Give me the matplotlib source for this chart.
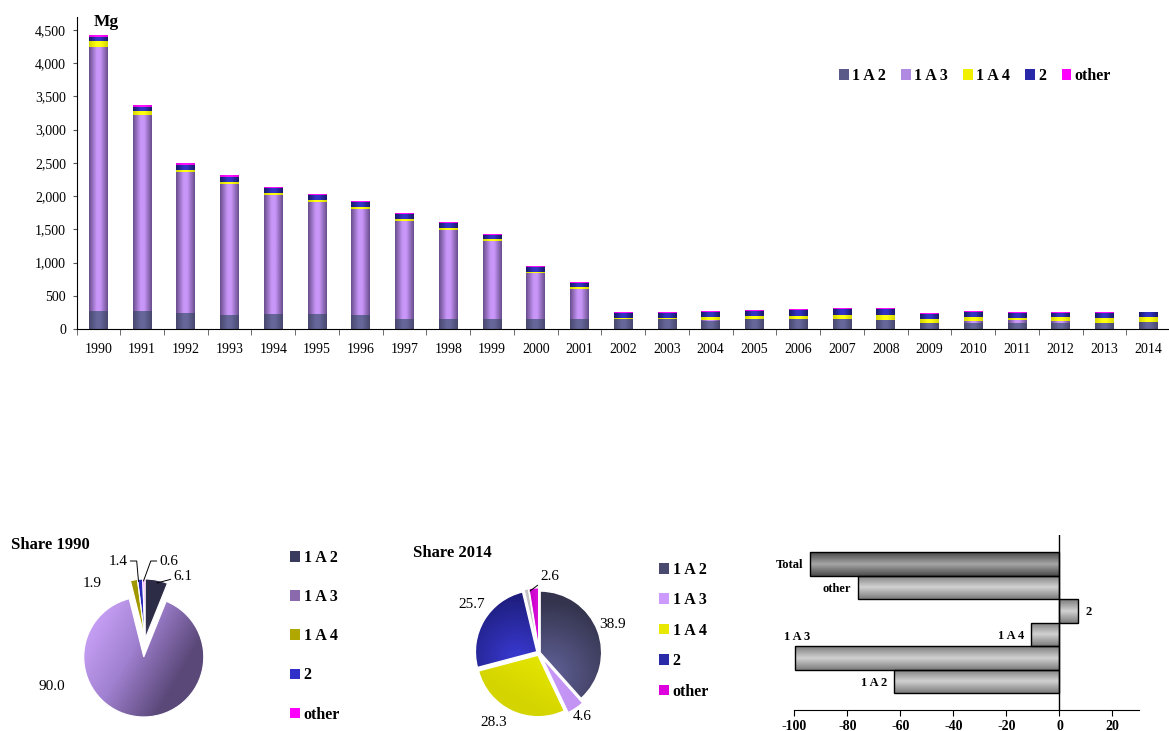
import numpy as np
import matplotlib
matplotlib.use('Agg')
import matplotlib.pyplot as plt
from matplotlib.colors import LinearSegmentedColormap
from matplotlib.patches import Rectangle
from matplotlib.ticker import FuncFormatter, FixedLocator

# ---------------- data ----------------
years = list(range(1990, 2015))
series_names = ['1 A 2', '1 A 3', '1 A 4', '2', 'other']
a12 = [270, 270, 240, 210, 225, 225, 210, 150, 150, 150, 150, 150, 150, 150, 120, 145, 145, 145, 130, 90, 95, 95, 95, 95, 100]
a13 = [3980, 2950, 2123, 1972, 1792, 1686, 1596, 1475, 1340, 1174, 693, 452, 3, 3, 15, 5, 5, 5, 5, 0, 20, 35, 25, 0, 12]
a14 = [84, 60, 30, 30, 30, 30, 30, 30, 30, 30, 15, 30, 15, 15, 45, 46, 46, 61, 76, 60, 65, 35, 60, 70, 72]
a2 = [62, 60, 75, 76, 75, 76, 75, 76, 75, 61, 75, 60, 76, 76, 76, 75, 90, 90, 90, 76, 76, 76, 61, 76, 66]
a_other = [27, 25, 30, 30, 15, 15, 15, 15, 15, 15, 15, 15, 15, 15, 15, 15, 15, 15, 15, 15, 15, 15, 15, 15, 7]
y_ticks = [0, 500, 1000, 1500, 2000, 2500, 3000, 3500, 4000, 4500]

share1990 = [6.1, 90.0, 1.9, 1.4, 0.6]
share2014_names = ['1 A 2', '1 A 3', '1 A 4', '2', '', 'other']
share2014 = [38.9, 4.6, 28.3, 25.7, 1.2, 2.6]

change_labels = ['1 A 2', '1 A 3', '1 A 4', '2', 'other', 'Total']
change = [-62.4, -99.7, -10.8, 7.1, -75.9, -94.1]
change_ticks = [-100, -80, -60, -40, -20, 0, 20]

# ---------------- setup ----------------
SERIF = 'Liberation Serif'
plt.rcParams['font.family'] = [SERIF, 'DejaVu Serif']
W, H = 1169, 731
fig = plt.figure(figsize=(W / 100, H / 100), dpi=100)


def fax(l, t, r, b):
    return fig.add_axes([l / W, 1 - b / H, (r - l) / W, (b - t) / H])


def cmap_of(stops):
    return LinearSegmentedColormap.from_list('g', stops)


def grad_rect(ax, patch, stops, horizontal=True, n=48):
    x0, y0 = patch.get_x(), patch.get_y()
    w, h = patch.get_width(), patch.get_height()
    if w == 0 or h == 0:
        return
    t = np.linspace(0, 1, n)
    Z = t.reshape(1, -1) if horizontal else t.reshape(-1, 1)
    ext = [min(x0, x0 + w), max(x0, x0 + w), min(y0, y0 + h), max(y0, y0 + h)]
    im = ax.imshow(Z, extent=ext, origin='lower', cmap=cmap_of(stops), vmin=0, vmax=1,
                   aspect='auto', interpolation='bilinear', zorder=patch.get_zorder() + 0.01)
    im.set_clip_path(patch)
    return im


def grad_wedge(ax, wedge, stops, func, lim, n=200):
    xs = np.linspace(-lim, lim, n)
    X, Y = np.meshgrid(xs, xs)
    Z = np.clip(func(X, Y), 0, 1)
    im = ax.imshow(Z, extent=[-lim, lim, -lim, lim], origin='lower', cmap=cmap_of(stops),
                   vmin=0, vmax=1, aspect='auto', interpolation='bilinear',
                   zorder=wedge.get_zorder() + 0.01)
    im.set_clip_path(wedge)
    wedge.set_zorder(wedge.get_zorder() + 0.02)
    wedge.set_facecolor('none')


def lin(ax_deg, scale=1.0, off=0.0):
    a = np.deg2rad(ax_deg)
    return lambda X, Y: 0.5 + (X * np.cos(a) + Y * np.sin(a)) * 0.5 * scale + off


def rad(cx, cy, r):
    return lambda X, Y: np.sqrt((X - cx) ** 2 + (Y - cy) ** 2) / r


# ---------------- main stacked bar chart ----------------
ax = fax(76.5, 16.7, 1170, 329)
xpos = np.arange(len(years))
bar_styles = [
    ('#48486e', '#66669a'),
    ('#6a4e8e', '#c896f8'),
    ('#d6d600', '#ffff10'),
    ('#1a1a6a', '#3232c4'),
    ('#e000e0', '#ff10ff'),
]
legend_cols = ['#5a5a88', '#b08ae0', '#f0f000', '#2828a8', '#ff00ff']
bottom = np.zeros(len(years))
for vals, (edge, mid) in zip([a12, a13, a14, a2, a_other], bar_styles):
    vals = np.array(vals, dtype=float)
    bars = ax.bar(xpos, vals, width=0.43, bottom=bottom, color=mid, linewidth=0)
    for b in bars:
        grad_rect(ax, b, [(0, edge), (0.4, mid), (0.6, mid), (1, edge)], horizontal=True)
    bottom += vals

ax.set_xlim(-0.5, len(years) - 0.5)
ax.set_ylim(0, 4700)
ax.spines['top'].set_visible(False)
ax.spines['right'].set_visible(False)
ax.set_yticks(y_ticks)
ax.yaxis.set_major_formatter(FuncFormatter(lambda v, p: f'{int(v):,}'))
ax.tick_params(axis='y', direction='out', length=3, pad=4.5, labelsize=10, color='#555555')
ax.set_xticks(xpos)
ax.set_xticklabels([str(y) for y in years])
ax.xaxis.set_minor_locator(FixedLocator(np.arange(-0.5, len(years), 1.0)))
ax.tick_params(axis='x', which='major', length=0, pad=10, labelsize=10)
ax.tick_params(axis='x', which='minor', length=4, direction='out', color='#555555')
fig.text(94 / W, 1 - 21.5 / H, 'Mg', fontsize=12.5, fontweight='bold', va='center', ha='left')

handles = [Rectangle((0, 0), 1, 1, fc=c, ec='none') for c in legend_cols]
fig.legend(handles, series_names, loc='center left', bbox_to_anchor=(839 / W, 1 - 76 / H),
           ncol=5, frameon=False, borderpad=0, borderaxespad=0, handlelength=0.6,
           handleheight=0.75, handletextpad=0.2, columnspacing=0.97,
           prop={'family': SERIF, 'weight': 'bold', 'size': 11.5})

# ---------------- pie 1990 ----------------
cx1, cy1, r1 = 145, 639, 60
ax1 = fax(cx1 - 100, cy1 - 100, cx1 + 100, cy1 + 100)
lim1 = 100 / r1
w1, _ = ax1.pie(share1990, startangle=90, counterclock=False, explode=[0, 0.3, 0, 0, 0],
                colors=['#3a3a5e', '#8a6aac', '#b0a800', '#3030c8', '#ff00ff'],
                wedgeprops=dict(edgecolor='white', linewidth=0.8))
grads1 = [
    (['#5e5e8c', '#2c2c46'], lin(60, 3.0, 0.0)),
    (['#cca4fa', '#a080d0', '#5a4878'], lin(-30, 1.1, 0.05)),
    (['#a09600', '#e8e800'], lin(0, 8, 0)),
    (['#2424b0', '#4040e0'], lin(0, 8, 0)),
    (['#ff00ff', '#ff40ff'], lin(0, 8, 0)),
]
for wg, (st, fn) in zip(w1, grads1):
    grad_wedge(ax1, wg, st, fn, lim1)
ax1.set_xlim(-lim1, lim1)
ax1.set_ylim(-lim1, lim1)
ax1.set_aspect('equal')
ax1.axis('off')


def p2d(px, py, cx, cy, r):
    return ((px - cx) / r, (cy - py) / r)


lab_kw = dict(fontsize=11, ha='center', va='center')
ax1.text(*p2d(52, 686, cx1, cy1, r1), f'{share1990[1]:.1f}', **lab_kw)
ax1.text(*p2d(92, 583, cx1, cy1, r1), f'{share1990[2]:.1f}', **lab_kw)
ax1.annotate(f'{share1990[0]:.1f}', xy=p2d(157, 583, cx1, cy1, r1), xytext=p2d(183, 576, cx1, cy1, r1),
             arrowprops=dict(arrowstyle='-', lw=0.7, shrinkA=0, shrinkB=0), **lab_kw)
ax1.annotate(f'{share1990[4]:.1f}', xy=p2d(143.5, 581, cx1, cy1, r1), xytext=p2d(169, 561, cx1, cy1, r1),
             arrowprops=dict(arrowstyle='-', lw=0.7, shrinkA=0, shrinkB=0,
                             connectionstyle='angle,angleA=0,angleB=70,rad=0'), **lab_kw)
ax1.annotate(f'{share1990[3]:.1f}', xy=p2d(138.5, 581.5, cx1, cy1, r1), xytext=p2d(118, 561, cx1, cy1, r1),
             arrowprops=dict(arrowstyle='-', lw=0.7, shrinkA=0, shrinkB=0,
                             connectionstyle='angle,angleA=0,angleB=95,rad=0'), **lab_kw)
fig.text(11 / W, 1 - 545 / H, 'Share 1990', fontsize=12, fontweight='bold', va='center', ha='left')

leg1_cols = ['#3a3a5e', '#8a6aac', '#b0a800', '#3030c8', '#ff00ff']
h1 = [Rectangle((0, 0), 1, 1, fc=c, ec='none') for c in leg1_cols]
fig.legend(h1, series_names, loc='upper left', bbox_to_anchor=(290 / W, 1 - 550 / H),
           frameon=False, borderpad=0, borderaxespad=0, handlelength=0.65, handleheight=0.65,
           handletextpad=0.2, labelspacing=1.45,
           prop={'family': SERIF, 'weight': 'bold', 'size': 11.5})

# ---------------- pie 2014 ----------------
cx2, cy2, r2 = 539, 653, 61.5
ax2 = fax(cx2 - 100, cy2 - 100, cx2 + 100, cy2 + 100)
lim2 = 100 / r2
w2, _ = ax2.pie(share2014, startangle=90, counterclock=False,
                explode=[0.02, 0.08, 0.04, 0.04, 0.06, 0.06],
                colors=['#4a4a6e', '#cc99ff', '#e8e800', '#2a2aa8', '#bcbcbc', '#dd00dd'],
                wedgeprops=dict(edgecolor='white', linewidth=1.0))
grads2 = [
    (['#62629a', '#34344e'], rad(0.15, -0.35, 1.2)),
    (['#d0a0ff', '#c494f4'], lin(0, 2, 0)),
    (['#d4d400', '#f8f800'], lin(60, 1.2, 0)),
    (['#3a3ad4', '#1c1c78'], rad(-0.35, -0.1, 1.1)),
    (['#c8c8c8', '#a8a8a8'], lin(0, 4, 0)),
    (['#c000c0', '#ff20ff'], lin(0, 6, 0)),
]
for wg, (st, fn) in zip(w2, grads2):
    grad_wedge(ax2, wg, st, fn, lim2)
ax2.set_xlim(-lim2, lim2)
ax2.set_ylim(-lim2, lim2)
ax2.set_aspect('equal')
ax2.axis('off')
ax2.text(*p2d(612, 624, cx2, cy2, r2), f'{share2014[0]:.1f}', **lab_kw)
ax2.text(*p2d(582.5, 717, cx2, cy2, r2), f'{share2014[1]:.1f}', **lab_kw)
ax2.text(*p2d(494, 722, cx2, cy2, r2), f'{share2014[2]:.1f}', **lab_kw)
ax2.text(*p2d(472, 605, cx2, cy2, r2), f'{share2014[3]:.1f}', **lab_kw)
ax2.annotate(f'{share2014[5]:.1f}', xy=p2d(530, 591, cx2, cy2, r2), xytext=p2d(550, 576, cx2, cy2, r2),
             arrowprops=dict(arrowstyle='-', lw=0.7, shrinkA=0, shrinkB=0), **lab_kw)
fig.text(413 / W, 1 - 553 / H, 'Share 2014', fontsize=12, fontweight='bold', va='center', ha='left')

leg2_cols = ['#4a4a6e', '#cc99ff', '#e8e800', '#2a2aa8', '#dd00dd']
h2 = [Rectangle((0, 0), 1, 1, fc=c, ec='none') for c in leg2_cols]
fig.legend(h2, series_names, loc='upper left', bbox_to_anchor=(659 / W, 1 - 562 / H),
           frameon=False, borderpad=0, borderaxespad=0, handlelength=0.65, handleheight=0.65,
           handletextpad=0.2, labelspacing=0.9,
           prop={'family': SERIF, 'weight': 'bold', 'size': 11.5})

# ---------------- change bar chart ----------------
axc = fax(794.3, 535, 1139, 710)
pos = np.arange(len(change_labels))
cbars = axc.barh(pos, change, height=1.0, color='#c0c0c0', edgecolor='black', linewidth=1.0)
for lab, b in zip(change_labels, cbars):
    if lab == 'Total':
        st = [(0, '#4a4a4a'), (0.5, '#a6a6a6'), (1, '#4a4a4a')]
    else:
        st = [(0, '#7c7c7c'), (0.5, '#d2d2d2'), (1, '#7c7c7c')]
    grad_rect(axc, b, st, horizontal=False)
    b.set_facecolor('none')
    b.set_zorder(b.get_zorder() + 0.05)
axc.set_xlim(-100, 30)
axc.set_ylim(-1.21, 6.23)
axc.axvline(0, color='black', lw=1.0, zorder=5)
for s in ['top', 'right', 'left']:
    axc.spines[s].set_visible(False)
axc.set_yticks([])
axc.set_xticks(change_ticks)
axc.set_xticklabels([str(t) for t in change_ticks])
axc.tick_params(axis='x', direction='out', length=4, pad=3, labelsize=10)
for t in axc.get_xticklabels():
    t.set_fontweight('bold')
for i, (lab, v) in enumerate(zip(change_labels, change)):
    if lab == '1 A 3':
        axc.annotate(lab, xy=(v, i), xytext=(11, 15), textcoords='offset points',
                     ha='right', va='center', fontsize=9, fontweight='bold')
    elif v < 0:
        axc.annotate(lab, xy=(v, i), xytext=(-5, -1), textcoords='offset points',
                     ha='right', va='center', fontsize=9, fontweight='bold')
    else:
        axc.annotate(lab, xy=(v, i), xytext=(5, -1), textcoords='offset points',
                     ha='left', va='center', fontsize=9, fontweight='bold')

fig.savefig('out.png', dpi=100)
